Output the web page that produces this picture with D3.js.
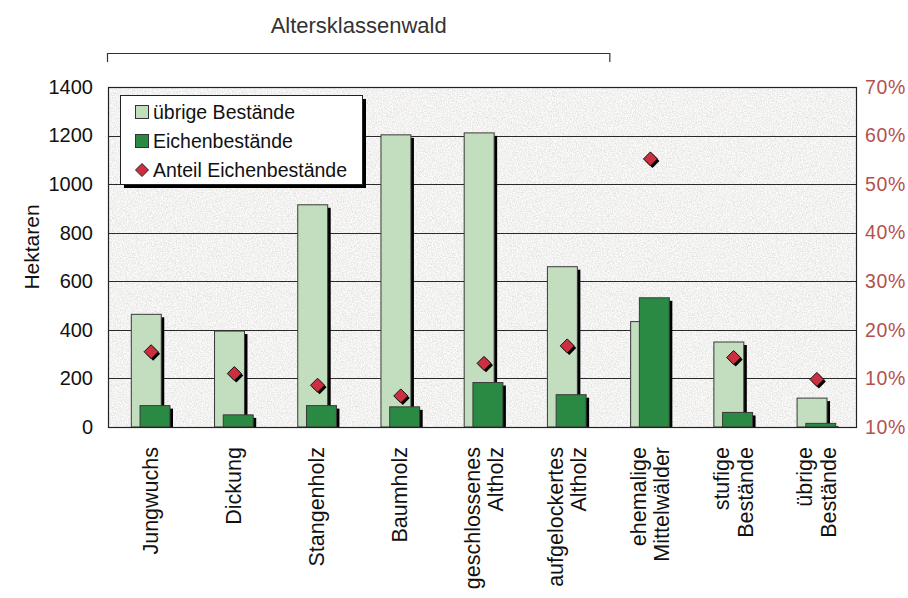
<!DOCTYPE html>
<html>
<head>
<meta charset="utf-8">
<script src="https://cdn.jsdelivr.net/npm/d3@7"></script>
<style>
  html, body { margin: 0; padding: 0; background: #ffffff; }
  svg { display: block; }
  text { font-family: "Liberation Sans", Arial, Helvetica, sans-serif; }
</style>
</head>
<body>
<svg id="chart" width="908" height="598"></svg>
<script>
// Waldflächen nach Bestandestyp
const categories = [
  "Jungwuchs", "Dickung", "Stangenholz", "Baumholz",
  "geschlossenes Altholz", "aufgelockertes Altholz",
  "ehemalige Mittelwälder", "stufige Bestände", "übrige Bestände"
];
const categoryLines = [
  ["Jungwuchs"], ["Dickung"], ["Stangenholz"], ["Baumholz"],
  ["geschlossenes", "Altholz"], ["aufgelockertes", "Altholz"],
  ["ehemalige", "Mittelwälder"], ["stufige", "Bestände"], ["übrige", "Bestände"]
];
const uebrigeBestaende = [464, 395, 915, 1203, 1211, 660, 434, 350, 119];   // ha
const eichenBestaende  = [88, 50, 88, 83, 183, 133, 532, 60, 15];          // ha
const anteilEichen     = [15.5, 11.0, 8.6, 6.4, 13.1, 16.7, 55.2, 14.3, 9.8]; // %

const leftTicks = [0, 200, 400, 600, 800, 1000, 1200, 1400];
const rightTicks = [0, 10, 20, 30, 40, 50, 60, 70];
const rightTickLabels = ["10%", "10%", "20%", "30%", "40%", "50%", "60%", "70%"];
const groupLabel = "Altersklassenwald";
const groupCategories = categories.slice(0, 6);
const legendItems = ["übrige Bestände", "Eichenbestände", "Anteil Eichenbestände"];

const colLight = "#c3ddbf", colDark = "#2a8a43", colDiamond = "#cc3040";
const colRight = "#b5504d";

const svg = d3.select("#chart");
const plot = { left: 108, right: 857, top: 87, bottom: 427 };

const x = d3.scaleBand().domain(categories).range([plot.left, plot.right]);
const bw = x.bandwidth();
const yL = d3.scaleLinear().domain([0, 1400]).range([plot.bottom, plot.top]);
const yR = d3.scaleLinear().domain([0, 70]).range([plot.bottom, plot.top]);

const defs = svg.append("defs");
// grainy stone texture for the plot area: dark specks and light specks
function grain(id, seed, gray, k, b) {
  const f = defs.append("filter").attr("id", id)
    .attr("x", 0).attr("y", 0).attr("width", 1).attr("height", 1);
  f.append("feTurbulence").attr("type", "fractalNoise").attr("baseFrequency", 0.8)
    .attr("numOctaves", 3).attr("seed", seed).attr("result", "n");
  f.append("feColorMatrix").attr("in", "n").attr("type", "matrix")
    .attr("values", `0 0 0 0 ${gray}  0 0 0 0 ${gray}  0 0 0 0 ${gray}  ${k} 0 0 0 ${b}`);
}
grain("grainDark", 7, 0.66, 3.2, -1.4);
grain("grainLight", 19, 1.0, 3.2, -1.2);
defs.append("clipPath").attr("id", "plotClip").append("rect")
  .attr("x", plot.left).attr("y", plot.top - 20)
  .attr("width", plot.right - plot.left + 10).attr("height", plot.bottom - plot.top + 20);

// plot background
svg.append("rect").attr("x", plot.left).attr("y", plot.top)
  .attr("width", plot.right - plot.left).attr("height", plot.bottom - plot.top)
  .attr("fill", "#efeeec");
[["grainDark", 0.55], ["grainLight", 0.9]].forEach(([id, op]) => {
  svg.append("rect").attr("x", plot.left).attr("y", plot.top)
    .attr("width", plot.right - plot.left).attr("height", plot.bottom - plot.top)
    .attr("filter", `url(#${id})`).attr("opacity", op);
});

// gridlines
svg.append("g").selectAll("line").data(leftTicks.slice(1, -1)).join("line")
  .attr("x1", plot.left).attr("x2", plot.right)
  .attr("y1", d => Math.round(yL(d)) + 0.5).attr("y2", d => Math.round(yL(d)) + 0.5)
  .attr("stroke", "#2a2a2a").attr("stroke-width", 1);

const bars = svg.append("g").attr("clip-path", "url(#plotClip)");
const lightOff = bw * 0.28, darkOff = bw * 0.385, barW = bw * 0.36;
const sh = 3;

function drawBars(values, offset, fill) {
  const g = bars.append("g");
  g.selectAll("rect.sh").data(values).join("rect").attr("class", "sh")
    .attr("x", (d, i) => x(categories[i]) + offset + sh)
    .attr("y", d => yL(d) + sh)
    .attr("width", barW).attr("height", d => plot.bottom - yL(d))
    .attr("fill", "#000");
  g.selectAll("rect.bar").data(values).join("rect").attr("class", "bar")
    .attr("x", (d, i) => x(categories[i]) + offset)
    .attr("y", d => yL(d))
    .attr("width", barW).attr("height", d => plot.bottom - yL(d))
    .attr("fill", fill).attr("stroke", "#3a3a3a").attr("stroke-width", 1);
}
drawBars(uebrigeBestaende, lightOff, colLight);
drawBars(eichenBestaende, darkOff, colDark);

// diamonds (right axis)
const dSize = 7;
const diamond = `M0,${-dSize}L${dSize},0L0,${dSize}L${-dSize},0Z`;
const dg = svg.append("g");
dg.selectAll("path.sh").data(anteilEichen).join("path").attr("class", "sh")
  .attr("d", diamond)
  .attr("transform", (d, i) => `translate(${x(categories[i]) + bw / 2 + 3.5},${yR(d) + 2})`)
  .attr("fill", "#000");
dg.selectAll("path.pt").data(anteilEichen).join("path").attr("class", "pt")
  .attr("d", diamond)
  .attr("transform", (d, i) => `translate(${x(categories[i]) + bw / 2 + 1.5},${yR(d)})`)
  .attr("fill", colDiamond).attr("stroke", "#111").attr("stroke-width", 1);

// plot frame
svg.append("rect").attr("x", plot.left + 0.5).attr("y", plot.top + 0.5)
  .attr("width", plot.right - plot.left - 1).attr("height", plot.bottom - plot.top)
  .attr("fill", "none").attr("stroke", "#222").attr("stroke-width", 1.2);

// left axis
const axL = svg.append("g").attr("transform", `translate(${plot.left},0)`)
  .call(d3.axisLeft(yL).tickValues(leftTicks).tickSize(0).tickPadding(15)
    .tickFormat(d3.format("d")));
axL.select(".domain").attr("stroke", "#222");
axL.selectAll("text").attr("font-size", 20).attr("fill", "#111")
  .attr("font-family", "'Liberation Sans', Arial, sans-serif");

// right axis
const axR = svg.append("g").attr("transform", `translate(${plot.right},0)`)
  .call(d3.axisRight(yR).tickValues(rightTicks).tickSize(0).tickPadding(8)
    .tickFormat((d, i) => rightTickLabels[i]));
axR.select(".domain").remove();
axR.selectAll("text").attr("font-size", 19.5).attr("fill", colRight)
  .attr("letter-spacing", 0.6)
  .attr("font-family", "'Liberation Sans', Arial, sans-serif");

// y title
svg.append("text").attr("transform", "translate(39,247) rotate(-90)")
  .attr("text-anchor", "middle").attr("font-size", 21).attr("fill", "#111")
  .text("Hektaren");

// category labels
const xl = svg.append("g");
categoryLines.forEach((lines, i) => {
  const c = x(categories[i]) + bw / 2;
  const n = lines.length;
  lines.forEach((ln, j) => {
    const cx = n === 1 ? c : c + (j === 0 ? -11 : 12.5);
    xl.append("text")
      .attr("transform", `translate(${cx + 8},447) rotate(-90)`)
      .attr("text-anchor", "end").attr("font-size", 21.5).attr("fill", "#111")
      .text(ln);
  });
});

// group bracket
const bx1 = x(groupCategories[0]) - 1;
const bx2 = x(groupCategories[groupCategories.length - 1]) + bw + 3;
svg.append("path")
  .attr("d", `M${bx1 + 0.5},62V53.5H${bx2 - 0.5}V62`)
  .attr("fill", "none").attr("stroke", "#333").attr("stroke-width", 1.2);
svg.append("text").attr("x", (bx1 + bx2) / 2).attr("y", 33)
  .attr("text-anchor", "middle").attr("font-size", 22).attr("fill", "#333")
  .text(groupLabel);

// legend
const lg = svg.append("g");
const L = { x: 120, y: 95, w: 242, h: 89 };
lg.append("rect").attr("x", L.x + 4).attr("y", L.y + 4).attr("width", L.w).attr("height", L.h)
  .attr("fill", "#000");
lg.append("rect").attr("x", L.x + 0.5).attr("y", L.y + 0.5).attr("width", L.w).attr("height", L.h)
  .attr("fill", "#fff").attr("stroke", "#222").attr("stroke-width", 1);
const rowY = [112, 141, 170];
legendItems.forEach((t, i) => {
  if (i < 2) {
    lg.append("rect").attr("x", 135.5).attr("y", rowY[i] - 6.5).attr("width", 13).attr("height", 13)
      .attr("fill", i === 0 ? colLight : colDark).attr("stroke", "#333").attr("stroke-width", 1);
  } else {
    lg.append("path").attr("d", `M0,-6.5L6.5,0L0,6.5L-6.5,0Z`)
      .attr("transform", `translate(142,${rowY[i]})`)
      .attr("fill", colDiamond).attr("stroke", "#222").attr("stroke-width", 1);
  }
  lg.append("text").attr("x", 153).attr("y", rowY[i]).attr("dy", "0.36em")
    .attr("font-size", 19.5).attr("fill", "#111").text(t);
});
</script>
</body>
</html>
